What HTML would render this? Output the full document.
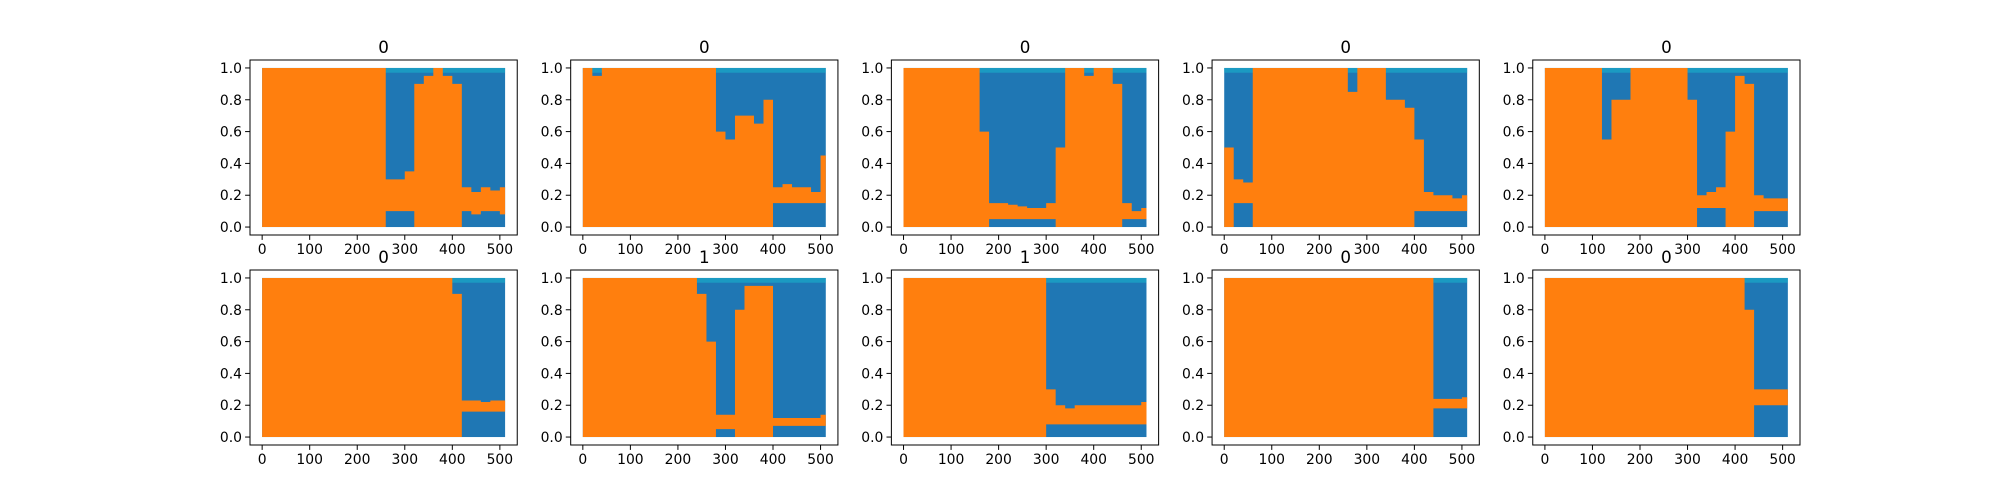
<!DOCTYPE html>
<html><head><meta charset="utf-8"><style>
html,body{margin:0;padding:0;background:#fff;}
svg{display:block;}
text{font-family:"DejaVu Sans","Liberation Sans",sans-serif;font-size:13.9px;fill:#000;}
</style></head><body>
<svg id="fig" width="2000" height="500" xmlns="http://www.w3.org/2000/svg"></svg>
<script>
const titles = ["0","0","0","0","0","0","1","1","0","0"];
const xTicks = [0,100,200,300,400,500];
const yTicks = [0,0.2,0.4,0.6,0.8,1.0];
const binSize = 20;
const nPoints = 511;
const orangeTop = [
 [1,1,1,1,1,1,1,1,1,1,1,1,1,0.3,0.3,0.35,0.9,0.95,1,0.95,0.9,0.25,0.22,0.25,0.23,0.25],
 [1,0.95,1,1,1,1,1,1,1,1,1,1,1,1,0.6,0.55,0.7,0.7,0.65,0.8,0.25,0.27,0.25,0.25,0.22,0.45],
 [1,1,1,1,1,1,1,1,0.6,0.15,0.15,0.14,0.13,0.12,0.12,0.15,0.5,1,1,0.95,1,1,0.9,0.15,0.1,0.12],
 [0.5,0.3,0.28,1,1,1,1,1,1,1,1,1,1,0.85,1,1,1,0.8,0.8,0.75,0.55,0.22,0.2,0.2,0.18,0.2],
 [1,1,1,1,1,1,0.55,0.8,0.8,1,1,1,1,1,1,0.8,0.2,0.22,0.25,0.6,0.95,0.9,0.2,0.18,0.18,0.18],
 [1,1,1,1,1,1,1,1,1,1,1,1,1,1,1,1,1,1,1,1,0.9,0.23,0.23,0.22,0.23,0.23],
 [1,1,1,1,1,1,1,1,1,1,1,1,0.9,0.6,0.14,0.14,0.8,0.95,0.95,0.95,0.12,0.12,0.12,0.12,0.12,0.14],
 [1,1,1,1,1,1,1,1,1,1,1,1,1,1,1,0.3,0.2,0.18,0.2,0.2,0.2,0.2,0.2,0.2,0.2,0.22],
 [1,1,1,1,1,1,1,1,1,1,1,1,1,1,1,1,1,1,1,1,1,1,0.24,0.24,0.24,0.25],
 [1,1,1,1,1,1,1,1,1,1,1,1,1,1,1,1,1,1,1,1,1,0.8,0.3,0.3,0.3,0.3]
];
const orangeBottom = [
 [0,0,0,0,0,0,0,0,0,0,0,0,0,0.1,0.1,0.1,0,0,0,0,0,0.1,0.08,0.1,0.1,0.08],
 [0,0,0,0,0,0,0,0,0,0,0,0,0,0,0,0,0,0,0,0,0.15,0.15,0.15,0.15,0.15,0.15],
 [0,0,0,0,0,0,0,0,0,0.05,0.05,0.05,0.05,0.05,0.05,0.05,0,0,0,0,0,0,0,0.05,0.05,0.05],
 [0,0.15,0.15,0,0,0,0,0,0,0,0,0,0,0,0,0,0,0,0,0,0.1,0.1,0.1,0.1,0.1,0.1],
 [0,0,0,0,0,0,0,0,0,0,0,0,0,0,0,0,0.12,0.12,0.12,0,0,0,0.1,0.1,0.1,0.1],
 [0,0,0,0,0,0,0,0,0,0,0,0,0,0,0,0,0,0,0,0,0,0.16,0.16,0.16,0.16,0.16],
 [0,0,0,0,0,0,0,0,0,0,0,0,0,0,0.05,0.05,0,0,0,0,0.07,0.07,0.07,0.07,0.07,0.07],
 [0,0,0,0,0,0,0,0,0,0,0,0,0,0,0,0.08,0.08,0.08,0.08,0.08,0.08,0.08,0.08,0.08,0.08,0.08],
 [0,0,0,0,0,0,0,0,0,0,0,0,0,0,0,0,0,0,0,0,0,0,0.18,0.18,0.18,0.18],
 [0,0,0,0,0,0,0,0,0,0,0,0,0,0,0,0,0,0,0,0,0,0,0.2,0.2,0.2,0.2]
];
const NS="http://www.w3.org/2000/svg";
const fig=document.getElementById('fig');
function mk(tag,attrs,parent){const e=document.createElementNS(NS,tag);for(const k in attrs)e.setAttribute(k,attrs[k]);parent.appendChild(e);return e;}
const axW=267.24, axH=175, gapW=53.45;
const lefts=[0,1,2,3,4].map(i=>250+i*(axW+gapW));
const tops=[60,270];
for(let p=0;p<10;p++){
  const L=lefts[p%5], T=tops[Math.floor(p/5)];
  const xmin=-25.55, xmax=536.55, ymin=-0.05, ymax=1.05;
  const sx=v=>L+(v-xmin)/(xmax-xmin)*axW;
  const sy=v=>T+axH-(v-ymin)/(ymax-ymin)*axH;
  const g=mk('g',{},fig);
  
  
  const blue=mk('rect',{x:sx(0),y:sy(1),width:sx(nPoints)-sx(0),height:sy(0)-sy(1),fill:'#1f77b4'},g);
  
  
  const cyan=mk('rect',{x:sx(0),y:sy(1),width:sx(nPoints)-sx(0),height:sy(0.97)-sy(1),fill:'#17becf',opacity:0.5},g);
  
  
  const tp=orangeTop[p], bt=orangeBottom[p];
  let up=[],down=[];
  for(let i=0;i<tp.length;i++){
    const x0=i*binSize, x1=Math.min((i+1)*binSize,nPoints);
    up.push(sx(x0)+','+sy(tp[i]));up.push(sx(x1)+','+sy(tp[i]));
    down.unshift(sx(x0)+','+sy(bt[i]));down.unshift(sx(x1)+','+sy(bt[i]));
  }
  const or=mk('polygon',{points:up.concat(down).join(' '),fill:'#ff7f0e'},g);
  
  
  const frame=mk('rect',{x:L,y:T,width:axW,height:axH,fill:'none',stroke:'#000','stroke-width':1},g);
  
  
  xTicks.forEach(v=>{
    mk('line',{x1:sx(v),x2:sx(v),y1:T+axH,y2:T+axH+4.9,stroke:'#000'},g);
    const t=mk('text',{x:sx(v),y:T+axH+19,'text-anchor':'middle'},g);t.textContent=String(v);
    
    
  });
  yTicks.forEach(v=>{
    mk('line',{x1:L-4.9,x2:L,y1:sy(v),y2:sy(v),stroke:'#000'},g);
    const t=mk('text',{x:L-8,y:sy(v)+5,'text-anchor':'end'},g);t.textContent=v.toFixed(1);
    
    
  });
  const tt=mk('text',{x:L+axW/2,y:T-17+10,'text-anchor':'middle','font-size':'16.7px'},g);
  tt.setAttribute('style','font-size:16.7px');
  tt.textContent=titles[p];
  
  
}
</script>
</body></html>
